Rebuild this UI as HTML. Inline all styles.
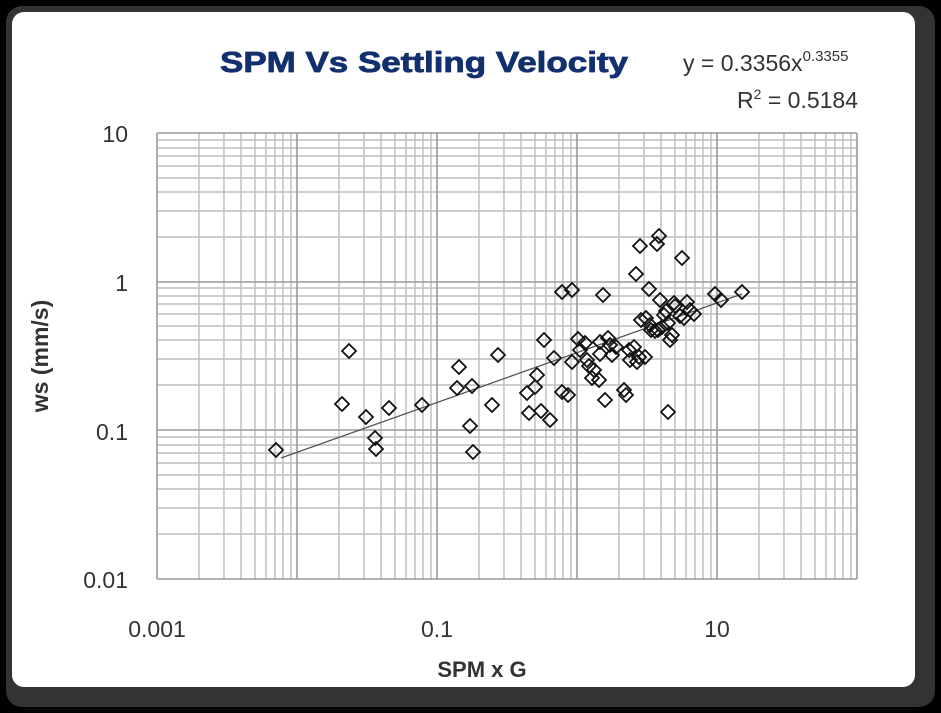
<!DOCTYPE html>
<html><head><meta charset="utf-8"><style>
body{margin:0;background:#000;width:941px;height:713px;overflow:hidden}
</style></head><body>
<svg width="941" height="713" xmlns="http://www.w3.org/2000/svg" style="position:absolute;left:0;top:0">
<rect x="0" y="0" width="941" height="713" fill="#000"/>
<rect x="6" y="6" width="929" height="701" rx="16" fill="#333"/>
<rect x="12" y="12" width="903" height="675" rx="12" fill="#fff"/>
<g stroke="#bdbdbd" stroke-width="1.4" fill="none">
<path d="M199 133V579M224 133V579M241 133V579M255 133V579M266 133V579M275 133V579M283 133V579M291 133V579
M339 133V579M364 133V579M381 133V579M395 133V579M406 133V579M415 133V579M423 133V579M431 133V579
M479 133V579M504 133V579M521 133V579M535 133V579M546 133V579M555 133V579M563 133V579M571 133V579
M619 133V579M644 133V579M661 133V579M675 133V579M686 133V579M695 133V579M703 133V579M711 133V579
M759 133V579M784 133V579M801 133V579M815 133V579M826 133V579M835 133V579M843 133V579M851 133V579
M157 534H857M157 508H857M157 489H857M157 475H857M157 463H857M157 453H857M157 445H857M157 437H857
M157 385H857M157 359H857M157 340H857M157 326H857M157 314H857M157 304H857M157 296H857M157 288H857
M157 237H857M157 211H857M157 192H857M157 178H857M157 166H857M157 156H857M157 148H857M157 140H857"/>
</g>
<g stroke="#9a9a9a" stroke-width="1.6" fill="none">
<path d="M157 133V579M297 133V579M437 133V579M577 133V579M717 133V579M857 133V579M157 133H857M157 282H857M157 430H857M157 579H857"/>
</g>
<line x1="281" y1="458" x2="742" y2="294" stroke="#555" stroke-width="1.3"/>
<defs><path id="d" d="M0 -7L7 0L0 7L-7 0Z" fill="none" stroke="#111" stroke-width="1.8"/></defs>
<g>
<use href="#d" x="276" y="450"/><use href="#d" x="349" y="351"/><use href="#d" x="342" y="404"/><use href="#d" x="366" y="417"/>
<use href="#d" x="389" y="408"/><use href="#d" x="375" y="438"/><use href="#d" x="376" y="449"/><use href="#d" x="422" y="405"/>
<use href="#d" x="459" y="367"/><use href="#d" x="457" y="388"/><use href="#d" x="472" y="386"/><use href="#d" x="470" y="426"/>
<use href="#d" x="473" y="452"/><use href="#d" x="492" y="405"/><use href="#d" x="498" y="355"/><use href="#d" x="535" y="387"/>
<use href="#d" x="541" y="411"/><use href="#d" x="529" y="413"/><use href="#d" x="550" y="420"/><use href="#d" x="544" y="340"/>
<use href="#d" x="527" y="393"/><use href="#d" x="537" y="375"/><use href="#d" x="562" y="292"/><use href="#d" x="572" y="290"/>
<use href="#d" x="554" y="358"/><use href="#d" x="562" y="392"/><use href="#d" x="568" y="395"/><use href="#d" x="572" y="362"/>
<use href="#d" x="580" y="350"/><use href="#d" x="578" y="339"/><use href="#d" x="585" y="343"/><use href="#d" x="600" y="342"/>
<use href="#d" x="589" y="366"/><use href="#d" x="594" y="370"/><use href="#d" x="600" y="354"/><use href="#d" x="599" y="380"/>
<use href="#d" x="592" y="378"/><use href="#d" x="608" y="338"/><use href="#d" x="603" y="295"/><use href="#d" x="605" y="400"/>
<use href="#d" x="612" y="355"/><use href="#d" x="616" y="347"/><use href="#d" x="624" y="390"/><use href="#d" x="626" y="395"/>
<use href="#d" x="634" y="347"/><use href="#d" x="630" y="360"/><use href="#d" x="637" y="362"/><use href="#d" x="639" y="357"/>
<use href="#d" x="636" y="274"/><use href="#d" x="640" y="246"/><use href="#d" x="649" y="289"/><use href="#d" x="657" y="244"/>
<use href="#d" x="659" y="236"/><use href="#d" x="668" y="412"/><use href="#d" x="660" y="300"/><use href="#d" x="641" y="320"/>
<use href="#d" x="646" y="318"/><use href="#d" x="650" y="325"/><use href="#d" x="655" y="331"/><use href="#d" x="658" y="330"/>
<use href="#d" x="664" y="315"/><use href="#d" x="662" y="327"/><use href="#d" x="666" y="311"/><use href="#d" x="668" y="323"/>
<use href="#d" x="674" y="303"/><use href="#d" x="672" y="335"/><use href="#d" x="682" y="258"/><use href="#d" x="675" y="306"/>
<use href="#d" x="680" y="316"/><use href="#d" x="684" y="318"/><use href="#d" x="690" y="310"/><use href="#d" x="694" y="314"/>
<use href="#d" x="687" y="302"/><use href="#d" x="670" y="340"/><use href="#d" x="715" y="294"/><use href="#d" x="721" y="300"/>
<use href="#d" x="742" y="292"/><use href="#d" x="629" y="350"/><use href="#d" x="651" y="330"/><use href="#d" x="645" y="357"/>
<use href="#d" x="610" y="345"/><use href="#d" x="587" y="360"/>
</g>
<g font-family="Liberation Sans, sans-serif" fill="#333" font-size="23">
<text x="128" y="142" text-anchor="end">10</text>
<text x="128" y="291" text-anchor="end">1</text>
<text x="128" y="440" text-anchor="end">0.1</text>
<text x="128" y="588" text-anchor="end">0.01</text>
<text x="157" y="637" text-anchor="middle">0.001</text>
<text x="437" y="637" text-anchor="middle">0.1</text>
<text x="717" y="637" text-anchor="middle">10</text>
<text x="683" y="71">y = 0.3356x<tspan font-size="15" dy="-10">0.3355</tspan></text>
<text x="858" y="108" text-anchor="end">R<tspan font-size="14" dy="-9">2</tspan><tspan dy="9"> = 0.5184</tspan></text>
</g>
<text x="220" y="72" textLength="408" lengthAdjust="spacingAndGlyphs" font-family="Liberation Sans, sans-serif" font-weight="bold" font-size="29" fill="#12306e" stroke="#12306e" stroke-width="0.8">SPM Vs Settling Velocity</text>
<text x="482" y="677" text-anchor="middle" font-family="Liberation Sans, sans-serif" font-weight="bold" font-size="22" fill="#333">SPM x G</text>
<text transform="translate(48,356) rotate(-90)" text-anchor="middle" font-family="Liberation Sans, sans-serif" font-weight="bold" font-size="23" fill="#333">ws (mm/s)</text>
</svg>
</body></html>
